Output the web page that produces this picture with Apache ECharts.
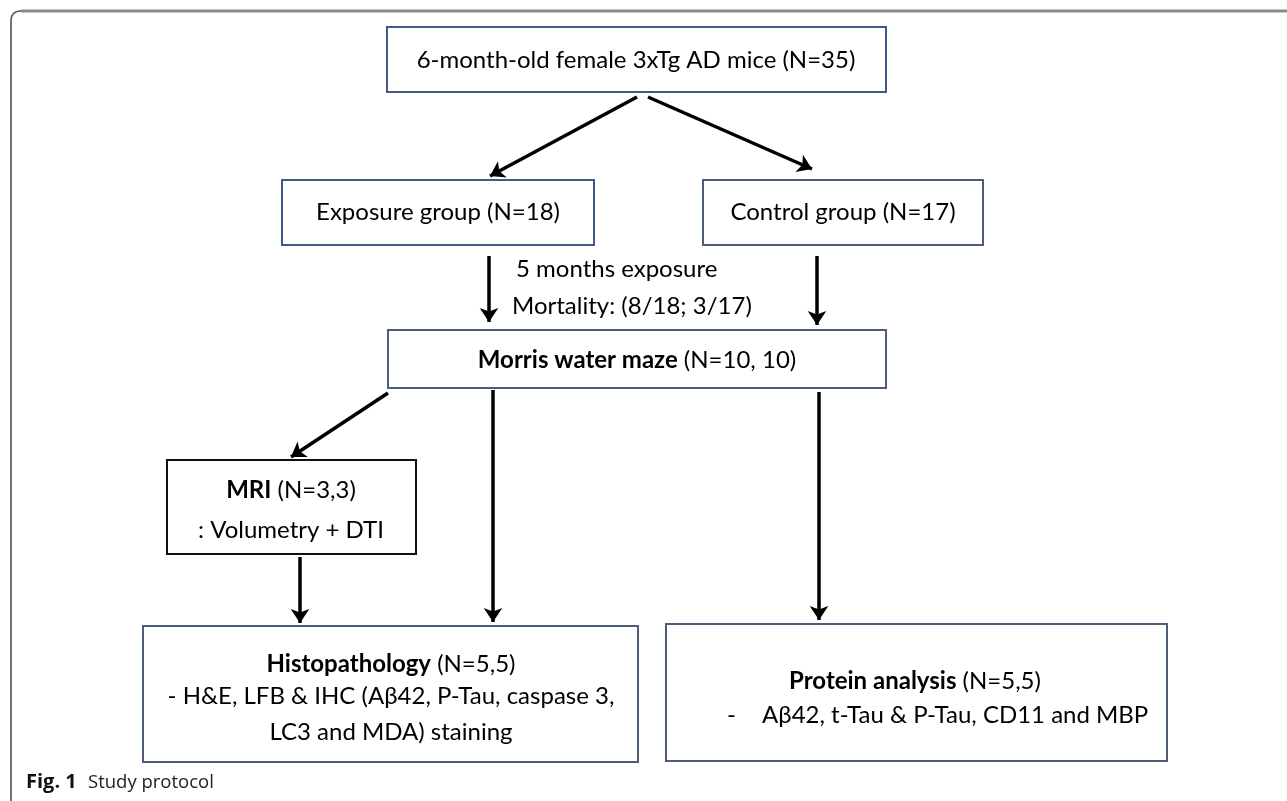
<!DOCTYPE html>
<html>
<head>
<meta charset="utf-8">
<script src="https://cdn.jsdelivr.net/npm/echarts@6/dist/echarts.min.js"></script>
<style>
  html, body { margin: 0; padding: 0; background: #fff; }
  #main { width: 1287px; height: 801px; }
</style>
</head>
<body>
<div id="main"></div>
<script>
// flowchart content
var boxTitles = ['6-month-old female 3xTg AD mice', 'Exposure group', 'Control group',
                 'Morris water maze', 'MRI', 'Histopathology', 'Protein analysis'];
var boxCounts = ['35', '18', '17', '10, 10', '3,3', '5,5', '5,5'];
var boxTitleBold = [false, false, false, true, true, true, true];
var boxDetails = [[], [], [], [], [': Volumetry + DTI'],
                  ['- H&E, LFB & IHC (A\u03b242, P-Tau, caspase 3,', 'LC3 and MDA) staining'],
                  ['-', 'A\u03b242, t-Tau & P-Tau, CD11 and MBP']];
var stepNotes = ['5 months exposure', 'Mortality: (8/18; 3/17)'];
var captionLabel = 'Fig. 1';
var captionText = 'Study protocol';

// layout (pixel space of the figure, y downwards)
var boxRects = [[387, 27, 886, 92], [282, 180, 594, 245], [703, 180, 983, 245],
                [388, 330, 886, 388], [167, 460, 416, 554], [143, 626, 638, 762],
                [666, 624, 1167, 761]];
// title line: [x, y, align]
var boxTextPos = [[636, 60, 'center'], [438, 212, 'center'], [843, 212, 'center'],
                  [637, 360, 'center'], [291, 490, 'center'], [391, 664, 'center'],
                  [915, 681, 'center']];
// one [x, y, align] per detail line
var boxDetailPos = [[], [], [], [], [[291, 530, 'center']],
                    [[391, 696, 'center'], [391, 732, 'center']],
                    [[727, 715, 'left'], [762, 715, 'left']]];
var boxStroke = ['#41598a', '#41598a', '#4e5d78', '#4e5d78', '#111', '#4e5d78', '#4e5d78'];
var notePos = [[516, 269], [512, 306]];
var arrowPaths = [
    [[637, 97], [490, 176]], [[648, 97], [812, 169]],
    [[489, 256], [489, 322]], [[817, 256], [817, 325]],
    [[388, 393], [291, 457]], [[493, 390], [493, 622]],
    [[819, 392], [819, 620]], [[300, 557], [300, 623]]
];

var FONT = 'Lato, "Liberation Sans", sans-serif';
var FS = 24;
var myChart = echarts.init(document.getElementById('main'));

function boxItem(params, api) {
    var i = params.dataIndex;
    var r = boxRects[i];
    var p0 = api.coord([r[0], r[1]]);
    var p1 = api.coord([r[2], r[3]]);
    var children = [{
        type: 'rect',
        shape: { x: p0[0], y: p0[1], width: p1[0] - p0[0], height: p1[1] - p0[1] },
        style: { fill: '#fff', stroke: boxStroke[i], lineWidth: 2 }
    }];
    var tp = api.coord([boxTextPos[i][0], boxTextPos[i][1]]);
    children.push({
        type: 'text',
        x: tp[0], y: tp[1],
        style: {
            text: '{t|' + boxTitles[i] + '}{n|\u00a0(N=' + boxCounts[i] + ')}',
            align: boxTextPos[i][2], verticalAlign: 'middle',
            rich: {
                t: { fontFamily: FONT, fontSize: FS, fontWeight: boxTitleBold[i] ? 'bold' : 'normal', fill: '#000' },
                n: { fontFamily: FONT, fontSize: FS, fill: '#000' }
            }
        }
    });
    boxDetails[i].forEach(function (line, k) {
        var dp = boxDetailPos[i][k];
        var pt = api.coord([dp[0], dp[1]]);
        children.push({
            type: 'text',
            x: pt[0], y: pt[1],
            style: {
                text: line, align: dp[2], verticalAlign: 'middle',
                fontFamily: FONT, fontSize: FS, fill: '#000'
            }
        });
    });
    return { type: 'group', children: children };
}

function noteItem(params, api) {
    var p = api.coord(notePos[params.dataIndex]);
    return {
        type: 'text', x: p[0], y: p[1],
        style: {
            text: stepNotes[params.dataIndex], align: 'left', verticalAlign: 'middle',
            fontFamily: FONT, fontSize: FS, fill: '#000'
        }
    };
}

var option = {
    backgroundColor: '#fff',
    animation: false,
    grid: { left: 0, right: 0, top: 0, bottom: 0 },
    xAxis: { type: 'value', min: 0, max: 1287, show: false },
    yAxis: { type: 'value', min: 0, max: 801, inverse: true, show: false },
    graphic: [
        { type: 'line', shape: { x1: 21, y1: 11, x2: 1287, y2: 11 },
          style: { stroke: '#8a8a8a', lineWidth: 3 } },
        { type: 'bezierCurve', shape: { x1: 21, y1: 11, cpx1: 11, cpy1: 11, x2: 11, y2: 21 },
          style: { stroke: '#555', lineWidth: 1.5, fill: null } },
        { type: 'line', shape: { x1: 11, y1: 21, x2: 11, y2: 801 },
          style: { stroke: '#444', lineWidth: 1.5 } },
        { type: 'text', left: 26, top: 772,
          style: { text: captionLabel, fontFamily: '"Open Sans", sans-serif', fontSize: 20, fontWeight: 'bold', fill: '#111' } },
        { type: 'text', left: 88, top: 773,
          style: { text: captionText, fontFamily: '"Open Sans", sans-serif', fontSize: 18.5, fill: '#222' } }
    ],
    series: [
        {
            type: 'custom',
            renderItem: boxItem,
            data: boxTitles.map(function (t, i) { return [i]; }),
            clip: false,
            silent: true
        },
        {
            type: 'custom',
            renderItem: noteItem,
            data: stepNotes.map(function (t, i) { return [i]; }),
            clip: false,
            silent: true
        },
        {
            type: 'lines',
            coordinateSystem: 'cartesian2d',
            symbol: ['none', 'arrow'],
            symbolSize: [12, 14],
            lineStyle: { color: '#000', width: 3.5, opacity: 1 },
            silent: true,
            data: arrowPaths.map(function (p) { return { coords: p }; })
        }
    ]
};
myChart.setOption(option);
</script>
</body>
</html>
